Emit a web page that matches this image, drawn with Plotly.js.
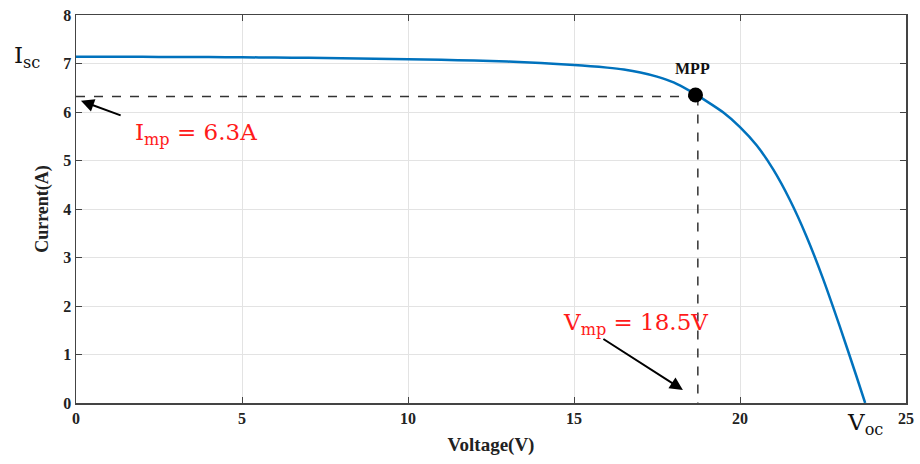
<!DOCTYPE html>
<html><head><meta charset="utf-8">
<script src="https://cdn.plot.ly/plotly-3.0.1.min.js"></script>
<style>body{margin:0;background:#fff}#c{width:920px;height:464px}</style>
</head><body><div id="c"></div>
<script>
const voltage = [0, 1, 2, 3, 4, 5, 6, 7, 8, 9, 10, 11, 12, 13, 14, 15, 15.5, 16, 16.5, 17, 17.5, 18, 18.5, 19, 19.5, 20, 20.5, 21, 21.5, 22, 22.5, 23, 23.5, 23.77];
const current = [7.14, 7.139, 7.137, 7.135, 7.132, 7.128, 7.123, 7.117, 7.11, 7.10, 7.09, 7.075, 7.06, 7.04, 7.01, 6.97, 6.945, 6.915, 6.875, 6.815, 6.73, 6.61, 6.43, 6.22, 5.99, 5.69, 5.315, 4.815, 4.19, 3.44, 2.565, 1.59, 0.567, 0];
const mppV = 18.73, mppI = 6.32;
const xTicks = [0, 5, 10, 15, 20, 25];
const yTicks = [0, 1, 2, 3, 4, 5, 6, 7, 8];

const serif = "Liberation Serif";
const math = "DejaVu Serif";
const traces = [
  {x: voltage, y: current, mode: 'lines', line: {color: '#0072BD', width: 2.5, shape: 'spline', smoothing: 0.6}, hoverinfo: 'skip'},
  {x: [0, mppV], y: [mppI, mppI], mode: 'lines', line: {color: '#333', width: 1.5, dash: 'dash'}},
  {x: [mppV, mppV], y: [mppI, 0], mode: 'lines', line: {color: '#333', width: 1.5, dash: 'dash'}},
  {x: [mppV - 0.07], y: [mppI + 0.03], mode: 'markers', marker: {color: '#000', size: 15}}
];
const layout = {
  width: 920, height: 464,
  margin: {l: 76, r: 14, t: 15, b: 61},
  showlegend: false,
  paper_bgcolor: '#fff', plot_bgcolor: '#fff',
  xaxis: {range: [0, 25], tickvals: xTicks, ticks: 'inside', ticklen: 6, tickcolor: '#444',
    showline: true, linecolor: '#444', linewidth: 1.5, mirror: 'ticks',
    showgrid: true, gridcolor: '#e3e3e3', zeroline: false,
    tickfont: {family: serif, size: 16, color: '#222', weight: 'bold'},
    title: {text: '<b>Voltage(V)</b>', font: {family: serif, size: 19, color: '#222'}, standoff: 12}},
  yaxis: {range: [0, 8], tickvals: yTicks, ticks: 'inside', ticklen: 6, tickcolor: '#444',
    showline: true, linecolor: '#444', linewidth: 1.5, mirror: 'ticks',
    showgrid: true, gridcolor: '#e3e3e3', zeroline: false,
    tickfont: {family: serif, size: 16, color: '#222', weight: 'bold'},
    title: {text: '<b>Current(A)</b>', font: {family: serif, size: 18, color: '#222'}, standoff: 10}},
  annotations: [
    {x: -0.059, y: current[0], xref: 'paper', yref: 'y', xanchor: 'center', yanchor: 'middle',
     text: 'I<sub>sc</sub>', showarrow: false, font: {family: math, size: 23, color: '#111'}},
    {x: voltage[voltage.length - 1], y: -0.055, xref: 'x', yref: 'paper', xanchor: 'center', yanchor: 'middle',
     text: 'V<sub>oc</sub>', showarrow: false, font: {family: math, size: 23, color: '#111'}},
    {x: mppV - 0.15, y: mppI + 0.57, xref: 'x', yref: 'y', text: '<b>MPP</b>', showarrow: false,
     font: {family: serif, size: 16, color: '#111'}},
    {x: 3.6, y: 5.55, xref: 'x', yref: 'y', text: 'I<sub>mp</sub> = 6.3A', showarrow: false,
     font: {family: math, size: 23, color: '#ff1a1a'}},
    {x: 16.85, y: 1.62, xref: 'x', yref: 'y', text: 'V<sub>mp</sub> = 18.5V', showarrow: false,
     font: {family: math, size: 23, color: '#ff1a1a'}},
    {x: 0.15, y: 6.23, ax: 1.39, ay: 5.92, xref: 'x', yref: 'y', axref: 'x', ayref: 'y', text: '',
     showarrow: true, arrowhead: 2, arrowsize: 1.3, arrowwidth: 2, arrowcolor: '#000'},
    {x: 18.28, y: 0.27, ax: 15.84, ay: 1.34, xref: 'x', yref: 'y', axref: 'x', ayref: 'y', text: '',
     showarrow: true, arrowhead: 2, arrowsize: 1.3, arrowwidth: 2, arrowcolor: '#000'}
  ]
};
Plotly.newPlot('c', traces, layout, {displayModeBar: false, staticPlot: true});
</script></body></html>
